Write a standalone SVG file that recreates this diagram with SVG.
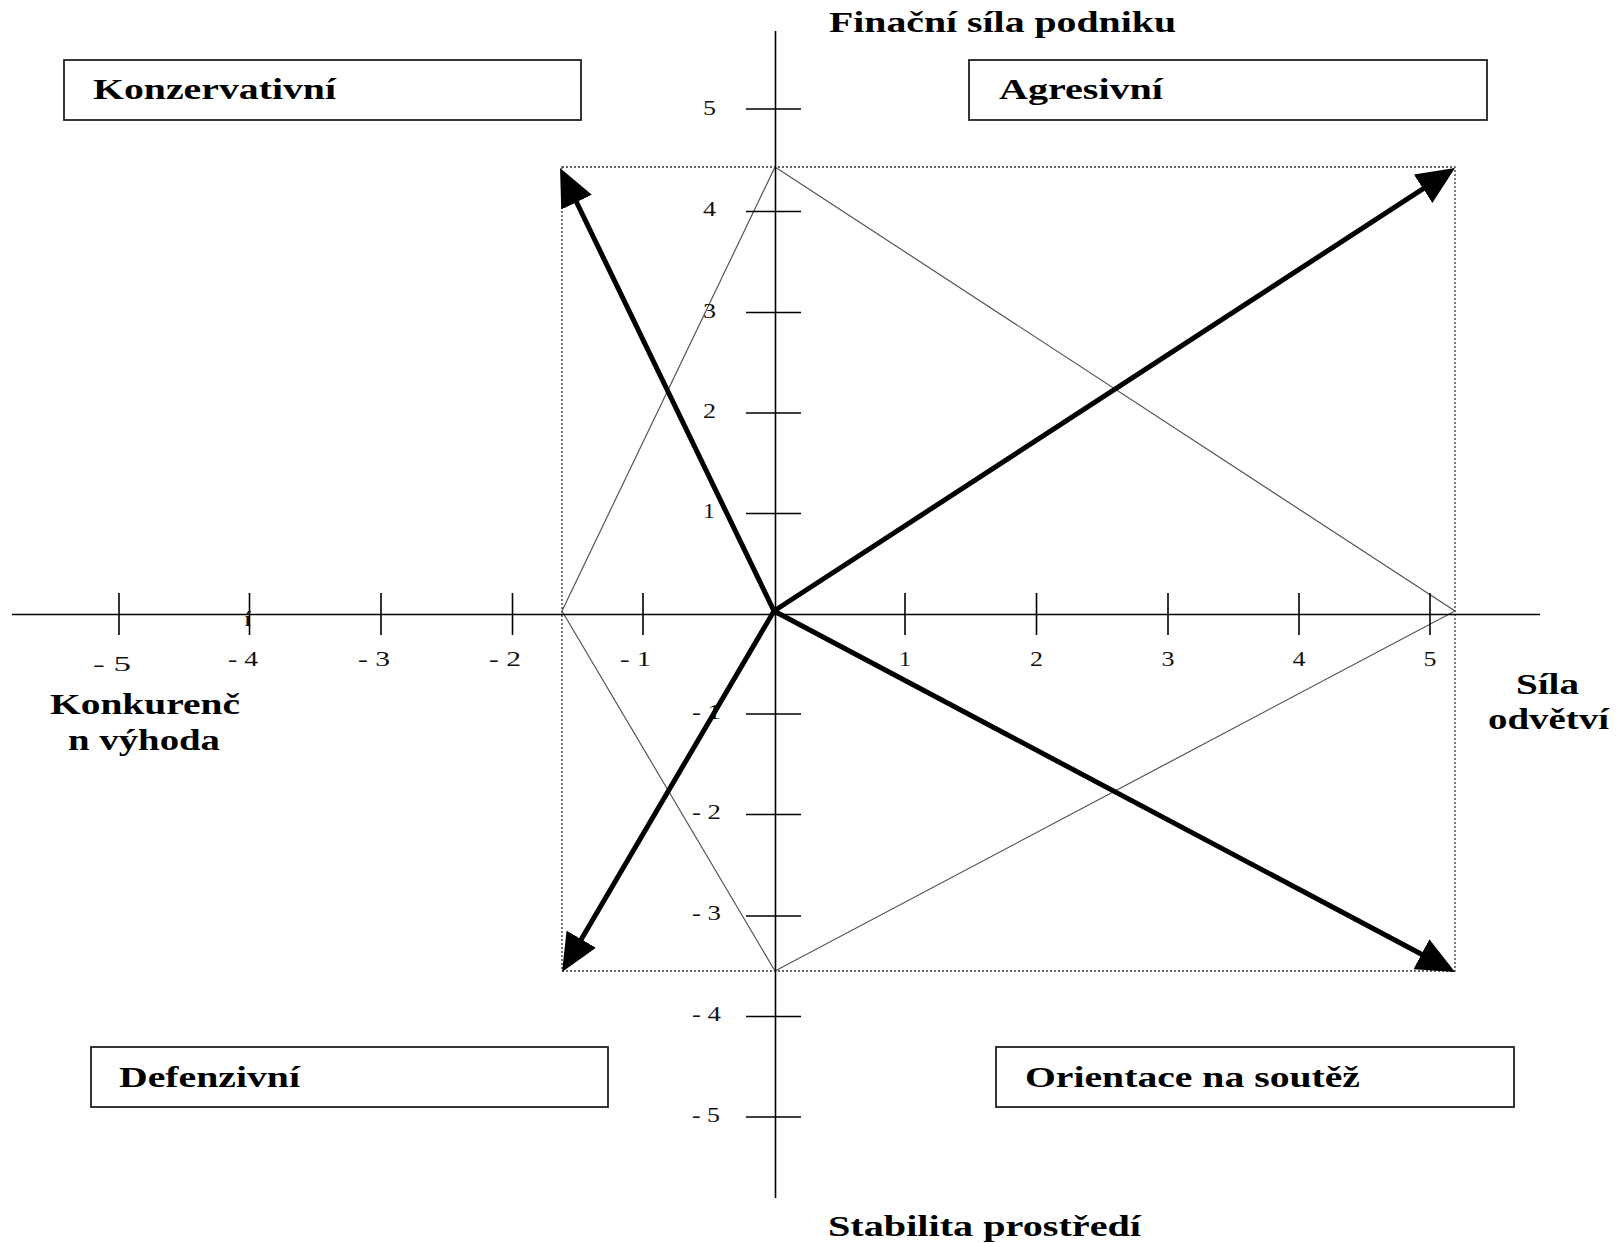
<svg xmlns="http://www.w3.org/2000/svg" width="1624" height="1243" viewBox="0 0 1624 1243">
  <style>
    .title { font-family: "Liberation Serif", "Times New Roman", serif; font-weight: bold; font-size: 29px; fill: #000; }
    .tick-label { font-family: "Liberation Serif", "Times New Roman", serif; font-size: 21px; fill: #111; }
    .box { fill: #fff; stroke: #222; stroke-width: 1.8; }
    .axis { stroke: #000; stroke-width: 1.6; fill: none; }
    .tick { stroke: #000; stroke-width: 1.6; }
    .frame { fill: none; stroke: #333; stroke-width: 1.3; stroke-dasharray: 2 2; }
    .rhomb { fill: none; stroke: #555; stroke-width: 1.2; }
    .vector { stroke: #000; stroke-width: 5; fill: none; marker-end: url(#head); }
  </style>
  <defs>
    <marker id="head" viewBox="0 0 38 34" markerWidth="38" markerHeight="34" refX="13" refY="17" orient="auto" markerUnits="userSpaceOnUse">
      <path d="M0,0 L38,17 L0,34 Z" fill="#000"/>
    </marker>
  </defs>
  <rect width="1624" height="1243" fill="#fff"/>

  <!-- quadrant boxes -->
  <g id="box-konzervativni">
    <rect class="box" x="64" y="60" width="517" height="60"/>
    <text class="title" x="93" y="99" textLength="243" lengthAdjust="spacingAndGlyphs">Konzervativní</text>
  </g>
  <g id="box-agresivni">
    <rect class="box" x="969" y="60" width="518" height="60"/>
    <text class="title" x="999" y="99" textLength="164" lengthAdjust="spacingAndGlyphs">Agresivní</text>
  </g>
  <g id="box-defenzivni">
    <rect class="box" x="91" y="1047" width="517" height="60"/>
    <text class="title" x="119" y="1087" textLength="181" lengthAdjust="spacingAndGlyphs">Defenzivní</text>
  </g>
  <g id="box-orientace">
    <rect class="box" x="996" y="1047" width="518" height="60"/>
    <text class="title" x="1025" y="1087" textLength="335" lengthAdjust="spacingAndGlyphs">Orientace na soutěž</text>
  </g>

  <!-- axis titles -->
  <g id="label-financni-sila">
    <text class="title" x="829" y="32" textLength="347" lengthAdjust="spacingAndGlyphs">Finační síla podniku</text>
  </g>
  <g id="label-stabilita">
    <text class="title" x="828" y="1236" textLength="313" lengthAdjust="spacingAndGlyphs">Stabilita prostředí</text>
  </g>
  <g id="label-konkurencni-vyhoda">
    <text class="title" x="50" y="714" textLength="190" lengthAdjust="spacingAndGlyphs">Konkurenč</text>
    <text class="title" x="68" y="750" textLength="152" lengthAdjust="spacingAndGlyphs">n výhoda</text>
  </g>
  <g id="label-sila-odvetvi">
    <text class="title" x="1516" y="694" textLength="63" lengthAdjust="spacingAndGlyphs">Síla</text>
    <text class="title" x="1488" y="729" textLength="121" lengthAdjust="spacingAndGlyphs">odvětví</text>
  </g>

  <!-- dotted frame and thin rhombus -->
  <g id="frame">
    <rect class="frame" x="562" y="167" width="893" height="804"/>
  </g>
  <g id="rhombus">
    <polygon class="rhomb" points="775,167 1455,611 775,971 562,611"/>
  </g>

  <!-- axes with ticks -->
  <g id="axes">
    <line class="axis" x1="775.5" y1="31" x2="775.5" y2="1198"/>
    <line class="axis" x1="12" y1="614.5" x2="1540" y2="614.5"/>
    <!-- horizontal ticks -->
    <line class="tick" x1="119" y1="593" x2="119" y2="635"/>
    <line class="tick" x1="249.5" y1="593" x2="249.5" y2="635"/>
    <line class="tick" x1="381" y1="593" x2="381" y2="635"/>
    <line class="tick" x1="512.5" y1="593" x2="512.5" y2="635"/>
    <line class="tick" x1="643" y1="593" x2="643" y2="635"/>
    <line class="tick" x1="905" y1="593" x2="905" y2="635"/>
    <line class="tick" x1="1036.5" y1="593" x2="1036.5" y2="635"/>
    <line class="tick" x1="1168" y1="593" x2="1168" y2="635"/>
    <line class="tick" x1="1299" y1="593" x2="1299" y2="635"/>
    <line class="tick" x1="1430" y1="593" x2="1430" y2="635"/>
    <!-- vertical ticks -->
    <line class="tick" x1="746" y1="109" x2="801" y2="109"/>
    <line class="tick" x1="746" y1="211.5" x2="801" y2="211.5"/>
    <line class="tick" x1="746" y1="312.5" x2="801" y2="312.5"/>
    <line class="tick" x1="746" y1="413" x2="801" y2="413"/>
    <line class="tick" x1="746" y1="513.5" x2="801" y2="513.5"/>
    <line class="tick" x1="746" y1="714" x2="801" y2="714"/>
    <line class="tick" x1="746" y1="814.5" x2="801" y2="814.5"/>
    <line class="tick" x1="746" y1="916" x2="801" y2="916"/>
    <line class="tick" x1="746" y1="1016.5" x2="801" y2="1016.5"/>
    <line class="tick" x1="746" y1="1117" x2="801" y2="1117"/>
  </g>

  <!-- tick numbers -->
  <g id="tick-labels">
    <text class="tick-label" x="93" y="671" textLength="38" lengthAdjust="spacingAndGlyphs">- 5</text>
    <text class="tick-label" x="228" y="666" textLength="30" lengthAdjust="spacingAndGlyphs">- 4</text>
    <text class="tick-label" x="358" y="666" textLength="32" lengthAdjust="spacingAndGlyphs">- 3</text>
    <text class="tick-label" x="489" y="666" textLength="32" lengthAdjust="spacingAndGlyphs">- 2</text>
    <text class="tick-label" x="620" y="666" textLength="31" lengthAdjust="spacingAndGlyphs">- 1</text>
    <text class="tick-label" x="899" y="666" textLength="12" lengthAdjust="spacingAndGlyphs">1</text>
    <text class="tick-label" x="1030" y="666" textLength="13" lengthAdjust="spacingAndGlyphs">2</text>
    <text class="tick-label" x="1161.5" y="666" textLength="13" lengthAdjust="spacingAndGlyphs">3</text>
    <text class="tick-label" x="1292.5" y="666" textLength="13" lengthAdjust="spacingAndGlyphs">4</text>
    <text class="tick-label" x="1423.5" y="666" textLength="13" lengthAdjust="spacingAndGlyphs">5</text>
    <text class="tick-label" x="245" y="626" font-size="20" font-weight="bold">í</text>

    <text class="tick-label" x="703" y="114.5" textLength="13" lengthAdjust="spacingAndGlyphs">5</text>
    <text class="tick-label" x="703" y="216" textLength="13" lengthAdjust="spacingAndGlyphs">4</text>
    <text class="tick-label" x="703" y="317.5" textLength="13" lengthAdjust="spacingAndGlyphs">3</text>
    <text class="tick-label" x="703" y="418" textLength="13" lengthAdjust="spacingAndGlyphs">2</text>
    <text class="tick-label" x="703" y="518" textLength="12" lengthAdjust="spacingAndGlyphs">1</text>
    <text class="tick-label" x="692" y="718.5" textLength="29" lengthAdjust="spacingAndGlyphs">- 1</text>
    <text class="tick-label" x="692" y="819" textLength="29" lengthAdjust="spacingAndGlyphs">- 2</text>
    <text class="tick-label" x="692" y="920" textLength="29" lengthAdjust="spacingAndGlyphs">- 3</text>
    <text class="tick-label" x="692" y="1020.5" textLength="29" lengthAdjust="spacingAndGlyphs">- 4</text>
    <text class="tick-label" x="692" y="1121.5" textLength="28" lengthAdjust="spacingAndGlyphs">- 5</text>
  </g>

  <!-- strategy vectors from the origin -->
  <g id="connectors">
    <line class="vector" x1="774" y1="611" x2="570.9" y2="190.5"/>
    <line class="vector" x1="774" y1="611" x2="1434" y2="181.6"/>
    <line class="vector" x1="774" y1="611" x2="1432.9" y2="960.3"/>
    <line class="vector" x1="774" y1="611" x2="574.7" y2="950.4"/>
  </g>
</svg>
